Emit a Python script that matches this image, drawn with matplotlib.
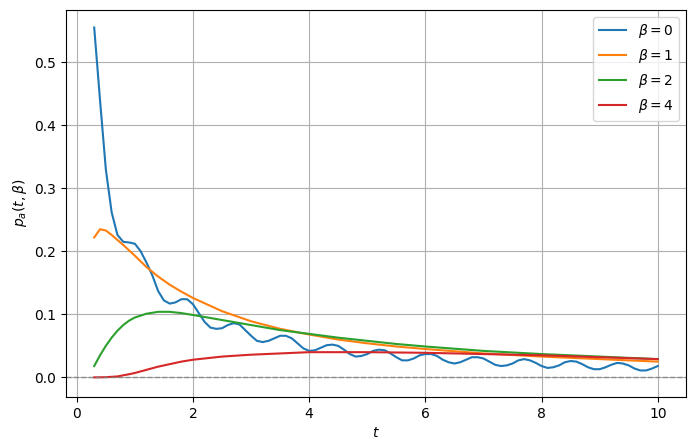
import matplotlib
matplotlib.use("Agg")
import matplotlib.pyplot as plt

# beta = 0 (oscillating curve)
t_b0 = [0.3, 0.4, 0.5, 0.6, 0.7, 0.8, 0.9, 1.0, 1.1, 1.2, 1.3, 1.4, 1.5, 1.6, 1.7, 1.8, 1.9,
        2.0, 2.1, 2.2, 2.3, 2.4, 2.5, 2.6, 2.7, 2.8, 2.9, 3.0, 3.1, 3.2, 3.3, 3.4, 3.5, 3.6,
        3.7, 3.8, 3.9, 4.0, 4.1, 4.2, 4.3, 4.4, 4.5, 4.6, 4.7, 4.8, 4.9, 5.0, 5.1, 5.2, 5.3,
        5.4, 5.5, 5.6, 5.7, 5.8, 5.9, 6.0, 6.1, 6.2, 6.3, 6.4, 6.5, 6.6, 6.7, 6.8, 6.9, 7.0,
        7.1, 7.2, 7.3, 7.4, 7.5, 7.6, 7.7, 7.8, 7.9, 8.0, 8.1, 8.2, 8.3, 8.4, 8.5, 8.6, 8.7,
        8.8, 8.9, 9.0, 9.1, 9.2, 9.3, 9.4, 9.5, 9.6, 9.7, 9.8, 9.9, 10.0]
p_b0 = [0.555, 0.44, 0.33, 0.262, 0.226, 0.215, 0.214, 0.212, 0.200, 0.182, 0.162, 0.137,
        0.122, 0.117, 0.119, 0.124, 0.124, 0.116, 0.102, 0.088, 0.079, 0.077, 0.078, 0.083,
        0.086, 0.084, 0.075, 0.066, 0.058, 0.056, 0.058, 0.062, 0.066, 0.066, 0.062, 0.054,
        0.046, 0.042, 0.043, 0.047, 0.051, 0.052, 0.050, 0.044, 0.037, 0.033, 0.034, 0.037,
        0.042, 0.044, 0.043, 0.038, 0.032, 0.027, 0.027, 0.030, 0.035, 0.037, 0.037, 0.034,
        0.028, 0.024, 0.022, 0.024, 0.028, 0.032, 0.032, 0.030, 0.025, 0.020, 0.018, 0.019,
        0.022, 0.027, 0.029, 0.027, 0.023, 0.018, 0.015, 0.016, 0.019, 0.024, 0.026, 0.025,
        0.021, 0.016, 0.013, 0.013, 0.016, 0.020, 0.023, 0.022, 0.019, 0.014, 0.011, 0.011,
        0.014, 0.018]

# beta = 1
t_b1 = [0.3, 0.4, 0.5, 0.6, 0.8, 1.0, 1.2, 1.4, 1.6, 1.8, 2.0, 2.5, 3.0, 3.5, 4.0, 4.5,
        5.0, 5.5, 6.0, 7.0, 8.0, 9.0, 10.0]
p_b1 = [0.222, 0.235, 0.233, 0.226, 0.210, 0.193, 0.175, 0.160, 0.147, 0.136, 0.126, 0.105,
        0.089, 0.077, 0.068, 0.060, 0.054, 0.049, 0.045, 0.038, 0.033, 0.029, 0.025]

# beta = 2
t_b2 = [0.3, 0.4, 0.5, 0.6, 0.7, 0.8, 0.9, 1.0, 1.2, 1.4, 1.6, 1.8, 2.0, 2.5, 3.0, 3.5,
        4.0, 4.5, 5.0, 5.5, 6.0, 7.0, 8.0, 9.0, 10.0]
p_b2 = [0.018, 0.035, 0.050, 0.063, 0.074, 0.083, 0.090, 0.095, 0.101, 0.104, 0.104, 0.102,
        0.099, 0.091, 0.083, 0.075, 0.069, 0.063, 0.058, 0.053, 0.049, 0.042, 0.037, 0.033,
        0.029]

# beta = 4
t_b4 = [0.3, 0.5, 0.7, 0.9, 1.0, 1.2, 1.4, 1.6, 1.8, 2.0, 2.5, 3.0, 3.5, 4.0, 4.5, 5.0,
        6.0, 7.0, 8.0, 9.0, 10.0]
p_b4 = [0.0, 0.0003, 0.0015, 0.005, 0.007, 0.012, 0.017, 0.021, 0.025, 0.028, 0.033, 0.036,
        0.038, 0.040, 0.040, 0.040, 0.039, 0.037, 0.035, 0.032, 0.029]

fig, ax = plt.subplots(figsize=(6.95, 4.48), dpi=100)
fig.subplots_adjust(left=0.095, right=0.987, top=0.978, bottom=0.114)

ax.plot(t_b0, p_b0, label=r'$\beta=0$')
ax.plot(t_b1, p_b1, label=r'$\beta=1$')
ax.plot(t_b2, p_b2, label=r'$\beta=2$')
ax.plot(t_b4, p_b4, label=r'$\beta=4$')
ax.axhline(0, color='gray', ls='--', lw=1, alpha=0.8)

ax.set_ylim(-0.031, 0.583)
ax.set_xlabel(r'$t$')
ax.set_ylabel(r'$p_a(t,\beta)$')
ax.grid(True)
ax.legend(loc='upper right')

fig.savefig('out.png', dpi=100)
